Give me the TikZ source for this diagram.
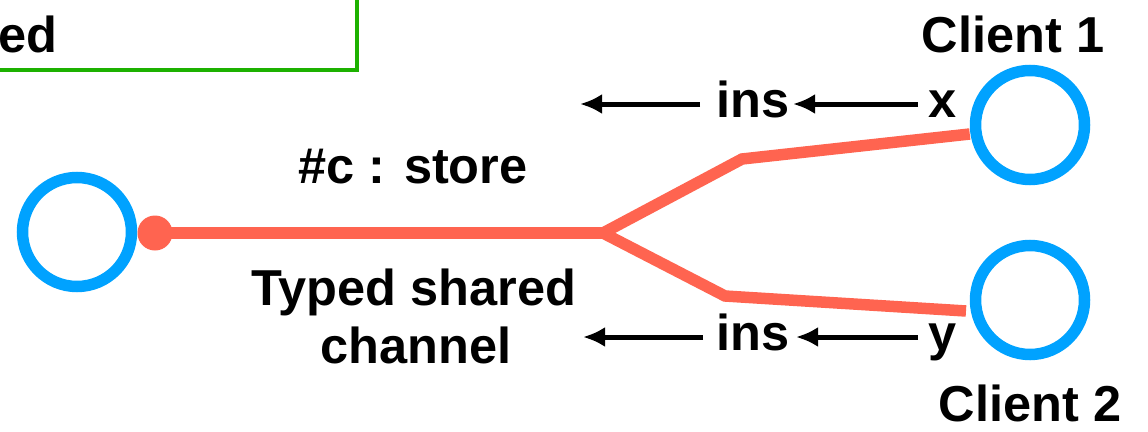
\documentclass[tikz,border=0pt]{standalone}
\usepackage{fontspec}
\setmainfont{Liberation Sans}
\usetikzlibrary{arrows.meta}
\definecolor{cblue}{RGB}{0,162,255}
\definecolor{cred}{RGB}{255,100,80}
\definecolor{cgreen}{RGB}{29,177,0}
\tikzset{
  proc/.style={circle,draw=cblue,line width=11.5pt,minimum size=109pt,inner sep=0pt},
  chan/.style={draw=cred,line width=11.5pt},
  lbl/.style={font=\fontsize{50.5}{60}\selectfont\bfseries,inner sep=0pt,anchor=base},
  msg/.style={draw=black,line width=5pt,-{Latex[length=22pt,width=20pt]}},
  frame/.style={draw=cgreen,line width=4.5pt}
}
\begin{document}
\begin{tikzpicture}[x=1pt,y=-1pt]
\useasboundingbox (0,0) rectangle (1148,431);
\begin{scope}
\clip (0,0) rectangle (1148,431);
\draw[frame] (-50,-20) rectangle (357,70);
\end{scope}
\node[lbl,anchor=base east] (ed) at (58,52) {ed};
% processes
\node[proc] (srv) at (77,232) {};
\node[proc] (c1) at (1030,125) {};
\node[proc] (c2) at (1030,300) {};
\node[circle,fill=cred,minimum size=35pt,inner sep=0pt] (dot) at (155,233) {};
\coordinate (j) at (603,233);
\coordinate (u) at (742,159);
\coordinate (l) at (725,296);
\draw[chan] (dot.center) -- (j);
\draw[chan,line join=miter] (j) -- (u) -- (c1.west|-0,134);
\draw[chan,line join=miter] (j) -- (l) -- (966,311);
% labels
\node[lbl] (c1l) at (1013,52) {Client 1};
\node[lbl] (c2l) at (1030,421) {Client 2};
\node[lbl] (st) at (413,183) {\#c : store};
\node[lbl,align=center] (ts) at (414,305) {Typed shared};
\node[lbl] (ch) at (416,363) {channel};
% upper message
\node[lbl] (x) at (943,117) {x};
\node[lbl] (i1) at (753,117) {ins};
\coordinate (a1) at (580,104);
\draw[msg] (918,104) -- (793,104);
\draw[msg] (700,104) -- (a1);
% lower message
\node[lbl] (y) at (943,350) {y};
\node[lbl] (i2) at (753,350) {ins};
\coordinate (a2) at (583,337);
\draw[msg] (918,337) -- (796,337);
\draw[msg] (703,337) -- (a2);
\end{tikzpicture}
\end{document}
